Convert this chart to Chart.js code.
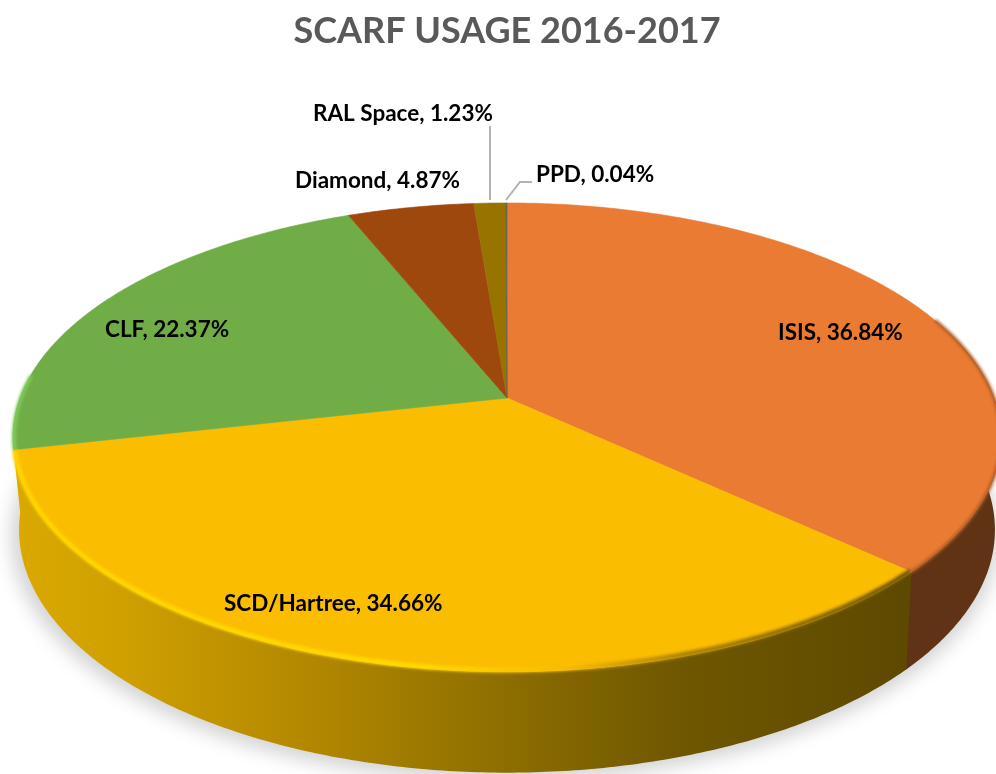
<!DOCTYPE html>
<html><head><meta charset="utf-8">
<script src="https://cdn.jsdelivr.net/npm/chart.js@4"></script>
<style>html,body{margin:0;padding:0;background:#fff;overflow:hidden}canvas{display:block}</style>
</head><body>
<canvas id="c" width="996" height="774"></canvas>
<script>
const categories = ['ISIS','SCD/Hartree','CLF','Diamond','RAL Space','PPD'];
const usage = [36.84,34.66,22.37,4.87,1.23,0.04];
const sliceColors = ['#ea7b33','#fbbd00','#70ad47','#9e480e','#997300','#636363'];
const titleText = 'SCARF USAGE 2016-2017';
// label anchor (left x, middle y)
const labelX = [778,224,105,295,313,536];
const labelY = [333,604,330,181,114,175];

// projective mapping of the unit disc: top face and bottom rim
const top3d = {x:507,y:398,a:487,b:227.8,p:0.168};
const low3d = {x:507,y:489,a:481,b:236,p:0.168};
function proj(m,ang){const u=Math.cos(ang),v=Math.sin(ang),w=1-m.p*v;return [m.x+m.a*u/w,m.y+m.b*v/w];}
function rimPath(ctx,m,a0,a1,move){const n=Math.max(2,Math.ceil(Math.abs(a1-a0)/0.01));
  for(let i=0;i<=n;i++){const p=proj(m,a0+(a1-a0)*i/n);(i===0&&move)?ctx.moveTo(p[0],p[1]):ctx.lineTo(p[0],p[1]);}}
function wall(ctx,a0,a1,a0low,a1low,fill){ctx.beginPath();rimPath(ctx,top3d,a0,a1,true);rimPath(ctx,low3d,a1low,a0low,false);ctx.closePath();ctx.fillStyle=fill;ctx.fill();}

const pie3d = {
  id:'pie3d',
  beforeDatasetsDraw(chart){
    const ctx=chart.ctx, arcs=chart.getDatasetMeta(0).data;
    // soft ground shadow
    ctx.save();ctx.filter='blur(9px)';ctx.fillStyle='rgba(0,0,0,0.17)';
    ctx.beginPath();rimPath(ctx,{...low3d,x:505,y:495,a:487,b:238},0,Math.PI*2,true);ctx.closePath();ctx.fill();ctx.restore();
    // side walls of the two front slices
    const g=ctx.createLinearGradient(14,0,905,0);
    g.addColorStop(0,'#dba900');g.addColorStop(0.12,'#cfa000');g.addColorStop(0.35,'#b08600');
    g.addColorStop(0.55,'#8d6e00');g.addColorStop(0.75,'#6f5700');g.addColorStop(1,'#5e4900');
    const isis=arcs[0], scd=arcs[1];
    wall(ctx,isis.startAngle+Math.PI/2-0.25,isis.endAngle+0.003,isis.startAngle+Math.PI/2-0.25,isis.endAngle+0.003,'#5f3314');
    wall(ctx,scd.startAngle,scd.endAngle,scd.startAngle,scd.endAngle+0.12,g);
    // arcs: library geometry, projected
    arcs.forEach(arc=>{arc.draw=function(c){
      const o=this.options;c.save();c.beginPath();c.moveTo(top3d.x,top3d.y);
      rimPath(c,top3d,this.startAngle,this.endAngle,false);c.closePath();
      c.fillStyle=o.backgroundColor;c.fill();c.strokeStyle=o.backgroundColor;c.lineWidth=0.6;c.stroke();c.restore();};});
  },
  afterDatasetsDraw(chart){
    const ctx=chart.ctx, a=chart.getDatasetMeta(0).data;
    ctx.save();ctx.filter='blur(1.4px)';ctx.lineCap='butt';
    // bevel along the rim of the front slice
    const rim=ctx.createLinearGradient(14,0,907,0);
    rim.addColorStop(0,'#ffd500');rim.addColorStop(0.45,'#ffdc00');rim.addColorStop(0.62,'#f5bb00');
    rim.addColorStop(0.75,'#a88200');rim.addColorStop(1,'#6e5600');
    ctx.strokeStyle=rim;ctx.lineWidth=5;ctx.beginPath();rimPath(ctx,{...top3d,a:top3d.a-1,b:top3d.b-1.5},a[1].startAngle,a[1].endAngle,true);ctx.stroke();
    ctx.strokeStyle='#a85a26';ctx.lineWidth=3;ctx.beginPath();rimPath(ctx,top3d,a[0].startAngle+1.2,a[0].endAngle,true);ctx.stroke();
    ctx.strokeStyle='#7fc95a';ctx.lineWidth=4;ctx.beginPath();rimPath(ctx,{...top3d,a:top3d.a-1},a[2].startAngle,a[2].startAngle+0.32,true);ctx.stroke();
    ctx.restore();
    // leader lines
    ctx.save();ctx.strokeStyle='#b3b3b3';ctx.lineWidth=2;
    ctx.beginPath();ctx.moveTo(490,126);ctx.lineTo(490,200);ctx.stroke();
    ctx.beginPath();ctx.moveTo(506,200);ctx.lineTo(520,182);ctx.lineTo(532,182);ctx.stroke();ctx.restore();
    // data labels
    ctx.save();ctx.font='bold 22.5px Lato';ctx.fillStyle='#000';ctx.textBaseline='middle';ctx.textAlign='left';
    categories.forEach((name,i)=>ctx.fillText(name+', '+usage[i].toFixed(2)+'%',labelX[i],labelY[i]));
    ctx.restore();
  }
};

new Chart(document.getElementById('c'),{
  type:'pie',
  data:{labels:categories,datasets:[{data:usage,backgroundColor:sliceColors,borderWidth:0}]},
  options:{responsive:false,animation:false,layout:{padding:{left:18}},
    plugins:{legend:{display:false},tooltip:{enabled:false},
      title:{display:true,text:titleText,color:'#595959',font:{family:'Lato',size:36,weight:'bold'},padding:{top:10,bottom:10}}}},
  plugins:[pie3d]
});
</script>
</body></html>
